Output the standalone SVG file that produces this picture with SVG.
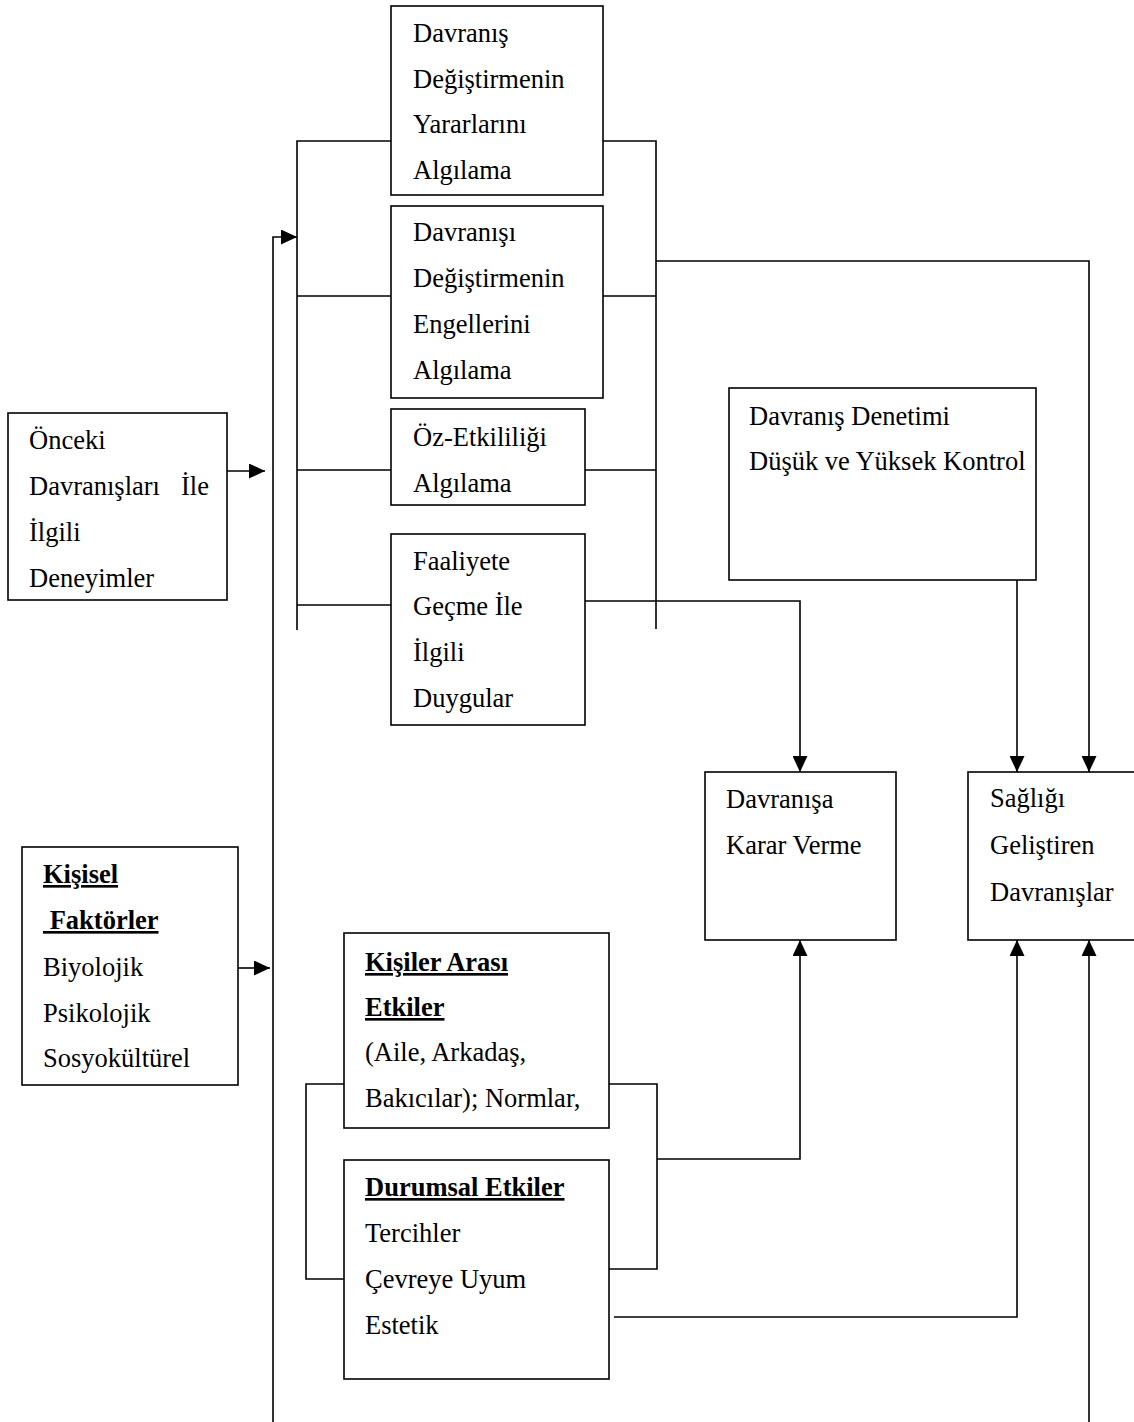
<svg xmlns="http://www.w3.org/2000/svg" width="1134" height="1422" viewBox="0 0 1134 1422">
<style>
.box{fill:#fff;stroke:#000;stroke-width:1.6}
.t{font-family:"Liberation Serif","Times New Roman",serif;font-size:26.5px;fill:#000}
.b{font-weight:bold;text-decoration:underline}
.c{fill:none;stroke:#000;stroke-width:1.6}
</style>
<defs>
<marker id="ah" markerUnits="userSpaceOnUse" markerWidth="16" markerHeight="15" refX="16" refY="7.5" orient="auto">
<path d="M0,0 L16,7.5 L0,15 z" fill="#000"/>
</marker>
</defs>
<rect width="1134" height="1422" fill="#fff"/>
<g id="connectors">
<path class="c" d="M273,1422 V237 H297" marker-end="url(#ah)"/>
<path class="c" d="M227,471 H265" marker-end="url(#ah)"/>
<path class="c" d="M238,968 H270" marker-end="url(#ah)"/>
<path class="c" d="M391,141 H297 V630 M297,296 H391 M297,470 H391 M297,605 H391"/>
<path class="c" d="M603,141 H656 V629 M603,296 H656 M585,470 H656"/>
<path class="c" d="M585,601 H800 V772" marker-end="url(#ah)"/>
<path class="c" d="M656,261 H1089 V772" marker-end="url(#ah)"/>
<path class="c" d="M1017,580 V772" marker-end="url(#ah)"/>
<path class="c" d="M344,1084 H306 V1279 H344 M609,1084 H657 V1269 H609"/>
<path class="c" d="M657,1159 H800 V940" marker-end="url(#ah)"/>
<path class="c" d="M614,1317 H1017 V940" marker-end="url(#ah)"/>
<path class="c" d="M1089,1422 V940" marker-end="url(#ah)"/>
</g>
<g id="yararlar">
<rect class="box" x="391" y="6" width="212" height="189"/>
<text class="t" x="413" y="42">Davranış</text>
<text class="t" x="413" y="88">Değiştirmenin</text>
<text class="t" x="413" y="133">Yararlarını</text>
<text class="t" x="413" y="179">Algılama</text>
</g>
<g id="engeller">
<rect class="box" x="391" y="206" width="212" height="192"/>
<text class="t" x="413" y="241">Davranışı</text>
<text class="t" x="413" y="287">Değiştirmenin</text>
<text class="t" x="413" y="333">Engellerini</text>
<text class="t" x="413" y="379">Algılama</text>
</g>
<g id="ozetkililik">
<rect class="box" x="391" y="409" width="194" height="96"/>
<text class="t" x="413" y="446">Öz-Etkililiği</text>
<text class="t" x="413" y="492">Algılama</text>
</g>
<g id="duygular">
<rect class="box" x="391" y="534" width="194" height="191"/>
<text class="t" x="413" y="570">Faaliyete</text>
<text class="t" x="413" y="615">Geçme İle</text>
<text class="t" x="413" y="661">İlgili</text>
<text class="t" x="413" y="707">Duygular</text>
</g>
<g id="denetim">
<rect class="box" x="729" y="388" width="307" height="192"/>
<text class="t" x="749" y="425">Davranış Denetimi</text>
<text class="t" x="749" y="470">Düşük ve Yüksek Kontrol</text>
</g>
<g id="onceki">
<rect class="box" x="8" y="413" width="219" height="187"/>
<text class="t" x="29" y="449">Önceki</text>
<text class="t" x="29" y="495">Davranışları</text>
<text class="t" x="181" y="495">İle</text>
<text class="t" x="29" y="541">İlgili</text>
<text class="t" x="29" y="587">Deneyimler</text>
</g>
<g id="karar">
<rect class="box" x="705" y="772" width="191" height="168"/>
<text class="t" x="726" y="808">Davranışa</text>
<text class="t" x="726" y="854">Karar Verme</text>
</g>
<g id="saglik">
<rect class="box" x="968" y="772" width="180" height="168"/>
<text class="t" x="990" y="807">Sağlığı</text>
<text class="t" x="990" y="854">Geliştiren</text>
<text class="t" x="990" y="901">Davranışlar</text>
</g>
<g id="kisisel">
<rect class="box" x="22" y="847" width="216" height="238"/>
<text class="t b" x="43" y="883">Kişisel</text>
<text class="t b" x="43" y="929" xml:space="preserve"> Faktörler</text>
<text class="t" x="43" y="976">Biyolojik</text>
<text class="t" x="43" y="1022">Psikolojik</text>
<text class="t" x="43" y="1067">Sosyokültürel</text>
</g>
<g id="kisilerarasi">
<rect class="box" x="344" y="933" width="265" height="195"/>
<text class="t b" x="365" y="971">Kişiler Arası</text>
<text class="t b" x="365" y="1016">Etkiler</text>
<text class="t" x="365" y="1061">(Aile, Arkadaş,</text>
<text class="t" x="365" y="1107">Bakıcılar); Normlar,</text>
</g>
<g id="durumsal">
<rect class="box" x="344" y="1160" width="265" height="219"/>
<text class="t b" x="365" y="1196">Durumsal Etkiler</text>
<text class="t" x="365" y="1242">Tercihler</text>
<text class="t" x="365" y="1288">Çevreye Uyum</text>
<text class="t" x="365" y="1334">Estetik</text>
</g>
</svg>
